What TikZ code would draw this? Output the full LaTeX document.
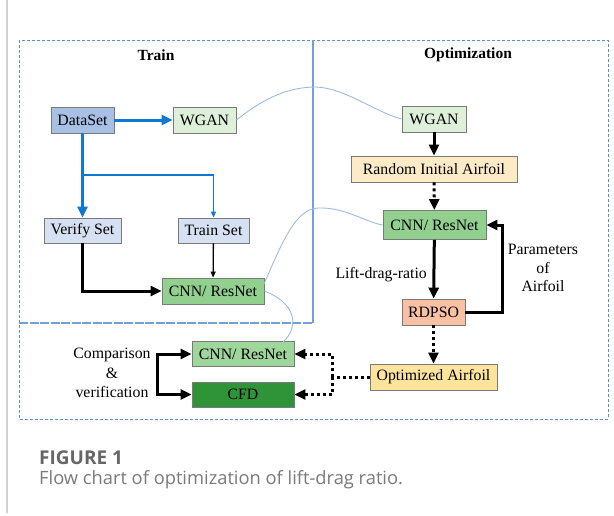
\documentclass[tikz,border=0pt]{standalone}
\usepackage{fontspec}
\setmainfont{Liberation Serif}
\newfontfamily\capfont{Open Sans}
\usetikzlibrary{arrows.meta}
\definecolor{frameblue}{HTML}{5B8FD0}
\definecolor{linkblue}{HTML}{9DBBE0}
\definecolor{flowblue}{HTML}{0F78D2}
\definecolor{boxedge}{HTML}{7A7A7A}
\definecolor{dataset}{HTML}{A7C0E3}
\definecolor{setfill}{HTML}{D5E1F2}
\definecolor{ganfill}{HTML}{DEF0D9}
\definecolor{cnnfill}{HTML}{92D08F}
\definecolor{cfdfill}{HTML}{2F9438}
\definecolor{randfill}{HTML}{FDEBC8}
\definecolor{psofill}{HTML}{F9C0A3}
\definecolor{optfill}{HTML}{FDE49C}
\tikzset{
  box/.style={draw=boxedge, line width=0.9pt, inner sep=0pt, minimum height=26pt,
    font=\fontsize{15.8}{18}\selectfont},
  title/.style={font=\fontsize{15.5}{18}\selectfont\bfseries},
  lbl/.style={font=\fontsize{15.8}{18}\selectfont, align=center, inner sep=0pt},
  bigarrow/.style={line width=3pt, -{Triangle[length=11pt,width=10pt]}},
  thinarrow/.style={line width=1.3pt, -{Triangle[length=6pt,width=5pt]}},
  dotarrow/.style={line width=3pt, dash pattern=on 3pt off 3pt, -{Triangle[length=11pt,width=10pt]}},
  dotline/.style={line width=3pt, dash pattern=on 3pt off 3pt},
  link/.style={draw=linkblue, line width=0.9pt},
}
\begin{document}
\begin{tikzpicture}[x=1pt,y=-1pt]
\fill[white] (0,0) rectangle (614,515);
\useasboundingbox (0,0) rectangle (614,515);
% page margin rule
\draw[black!18, line width=1.5pt] (7,0) -- (7,513);

% frames
\draw[frameblue, line width=1pt, dash pattern=on 3pt off 2pt] (19,40) rectangle (608,419);
\draw[frameblue!85!white, line width=1.3pt] (313,40) -- (313,323);
\draw[frameblue!85!white, line width=1.2pt, dash pattern=on 9pt off 1.5pt] (19,323) -- (313,323);

\node[title] (ttrain) at (156,55) {Train};
\node[title] (topt) at (468,55) {Optimization};

% training column
\node[box, fill=dataset, minimum width=63pt] (ds) at (82.5,120) {DataSet};
\node[box, fill=ganfill, minimum width=63pt] (gan1) at (204.5,120) {WGAN};
\node[box, fill=setfill, minimum width=77pt, minimum height=25pt] (vs) at (82.5,230.5) {Verify Set};
\node[box, fill=setfill, minimum width=71pt, minimum height=25pt] (ts) at (213.5,230.5) {Train Set};
\node[box, fill=cnnfill, minimum width=102pt] (cnn1) at (213,291) {CNN/ ResNet};
\coordinate (fork) at (82.5,175);

\draw[bigarrow, flowblue] (ds) -- (gan1);
\draw[bigarrow, flowblue] (ds) -- (vs);
\draw[thinarrow, flowblue] (fork) -| (ts);
\draw[bigarrow] (vs) |- (cnn1);
\draw[thinarrow] (ts) -- (cnn1);

% optimization column
\node[box, fill=ganfill, minimum width=64pt] (gan2) at (434,119) {WGAN};
\node[box, fill=randfill, minimum width=166pt] (rand) at (434,169) {Random Initial Airfoil};
\node[box, fill=cnnfill, minimum width=103pt, minimum height=29pt] (cnn2) at (434.5,225) {CNN/ ResNet};
\node[box, fill=psofill, minimum width=63pt] (pso) at (433.5,312) {RDPSO};
\node[box, fill=optfill, minimum width=127pt] (opt) at (433.5,377) {Optimized Airfoil};
\coordinate (loop) at (502,312);

\draw[bigarrow] (gan2) -- (rand);
\draw[dotarrow] (rand) -- (cnn2);
\draw[bigarrow] (cnn2) -- (pso);
\draw[bigarrow] (pso.east) -- (loop) |- (cnn2.east);
\draw[dotarrow] (pso) -- (opt);
\node[lbl, anchor=east] (ldr) at (427,275) {Lift-drag-ratio};
\node[lbl, font=\fontsize{15.8}{18.5}\selectfont] (par) at (543,268) {Parameters\\of\\Airfoil};

% verification row
\node[box, fill=cnnfill!88!white, minimum width=102pt, minimum height=25pt] (cnn3) at (243,354) {CNN/ ResNet};
\node[box, fill=cfdfill, minimum width=102pt, minimum height=25pt] (cfd) at (243,394.5) {CFD};
\coordinate (split) at (332,377);
\coordinate (bra) at (157,375);

\draw[dotline] (opt.west) -- (split);
\draw[dotarrow] (split) |- (cnn3.east);
\draw[dotarrow] (split) |- (cfd.east);
\draw[bigarrow] (bra) |- (cnn3.west);
\draw[bigarrow] (bra) |- (cfd.west);
\node[lbl, font=\fontsize{15.8}{19.5}\selectfont] (cmp) at (112,373) {Comparison\\\&\\verification};

% links between the two columns
\draw[link] (gan1.east) .. controls (265,97) and (290,87) .. (316,87)
  .. controls (345,88) and (375,112) .. (gan2.west);
\draw[link] (264,284) .. controls (283,240) and (296,209) .. (318,208)
  .. controls (345,207) and (365,222) .. (cnn2.west);
\draw[link] (cnn1.east) .. controls (300,305) and (297,330) .. (283,342);

% caption
\node[anchor=west, inner sep=0pt, text=black!60, font=\capfont\bfseries\fontsize{19}{22}\selectfont] (fig) at (39,457.5) {FIGURE 1};
\node[anchor=west, inner sep=0pt, text=black!52, font=\capfont\fontsize{18.3}{22}\selectfont] (cap) at (39,480) {Flow chart of optimization of lift-drag ratio.};
\end{tikzpicture}
\end{document}
